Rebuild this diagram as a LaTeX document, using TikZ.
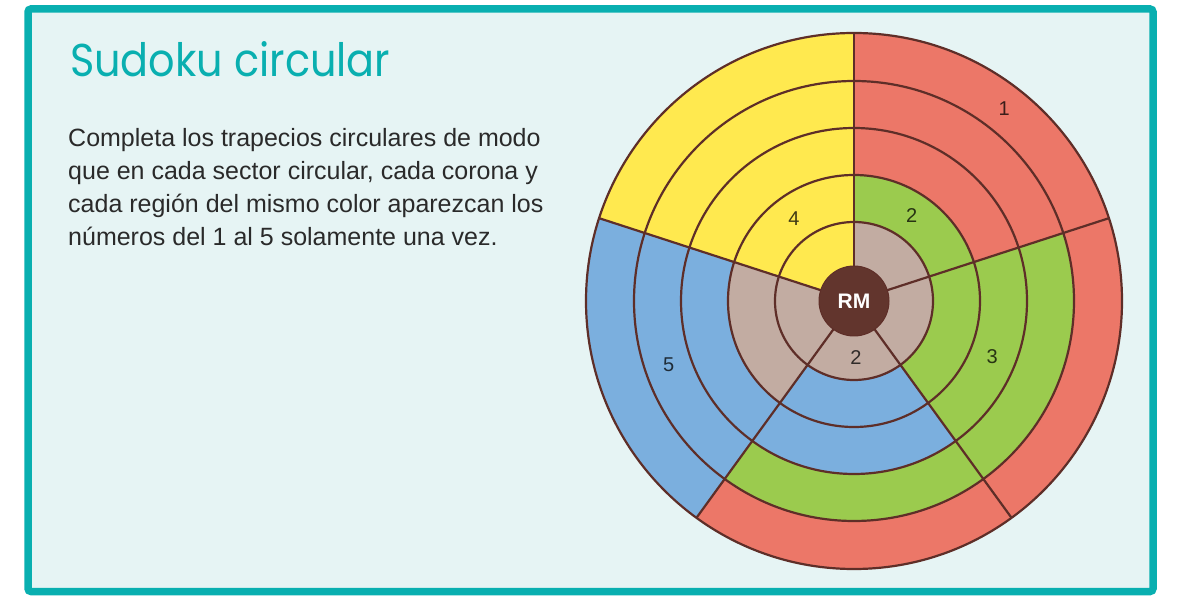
\documentclass[tikz,border=0pt]{standalone}
\usepackage{fontspec}
\setmainfont{Liberation Sans}
\newfontfamily\titlefont[FakeStretch=0.9]{Poppins}
\usetikzlibrary{positioning}
\definecolor{frameteal}{HTML}{09AFB0}
\definecolor{panelfill}{HTML}{E6F4F4}
\definecolor{ringline}{HTML}{5E2E28}
\definecolor{rmfill}{HTML}{62352D}
\definecolor{cellyellow}{HTML}{FFE94F}
\definecolor{cellred}{HTML}{EC7768}
\definecolor{cellgreen}{HTML}{9BCB4E}
\definecolor{cellblue}{HTML}{7BAFDE}
\definecolor{cellgrey}{HTML}{C2ACA2}
\definecolor{inkbody}{HTML}{2A2A2A}
\tikzset{
  % ---- panel ------------------------------------------------------------
  panel/.style={draw=frameteal, line width=7.5pt, fill=panelfill,
                rounded corners=3pt},
  titletext/.style={font=\titlefont\fontsize{46}{52}\selectfont,
                    text=frameteal, inner sep=0pt},
  bodytext/.style={font=\fontsize{25}{33}\selectfont, text=inkbody,
                   align=left, inner sep=0pt},
  % ---- wheel ------------------------------------------------------------
  ringdraw/.style={draw=ringline, line width=2.2pt},
  rmnode/.style={circle, fill=rmfill, draw=ringline, line width=1pt,
                 minimum size=70pt, inner sep=0pt, text=white,
                 font=\bfseries\fontsize{21}{21}\selectfont},
  numlabel/.style={font=\fontsize{20}{20}\selectfont, inner sep=0pt},
}

\begin{document}
\begin{tikzpicture}[x=1pt, y=1pt]

\useasboundingbox (0,0) rectangle (1181,600);

% ---- frame and text ----------------------------------------------------
\draw[panel] (28,8.5) rectangle (1153,591);
\node[titletext, anchor=base west] (title) at (70,523) {Sudoku circular};
% base of a multi-line node = its last line
\node[bodytext, anchor=base west] (intro) at (68,354)
  {Completa los trapecios circulares de modo\\
   que en cada sector circular, cada corona y\\
   cada región del mismo color aparezcan los\\
   números del 1 al 5 solamente una vez.};

% ---- wheel -------------------------------------------------------------
\begin{scope}[shift={(854,299)}]

\def\rad{{35,79,126,173,220,268}}

% cells: start angle / ring / colour
\foreach \a/\r/\c in {
    90/1/cellyellow, 90/2/cellyellow, 90/3/cellyellow, 90/4/cellyellow, 90/5/cellyellow,
    18/1/cellgrey,   18/2/cellgreen,  18/3/cellred,    18/4/cellred,    18/5/cellred,
   -54/1/cellgrey,  -54/2/cellgreen, -54/3/cellgreen,  -54/4/cellgreen, -54/5/cellred,
  -126/1/cellgrey, -126/2/cellblue, -126/3/cellblue,  -126/4/cellgreen, -126/5/cellred,
   162/1/cellgrey,  162/2/cellgrey,  162/3/cellblue,   162/4/cellblue,  162/5/cellblue}{
  \pgfmathsetmacro{\ri}{\rad[\r-1]}
  \pgfmathsetmacro{\ro}{\rad[\r]}
  \fill[\c] (\a:\ri) arc[start angle=\a, end angle=\a+72, radius=\ri]
    -- (\a+72:\ro) arc[start angle=\a+72, end angle=\a, radius=\ro] -- cycle;
}

% rings and spokes
\foreach \r in {79,126,173,220,268}
  \draw[ringdraw] (0,0) circle[radius=\r];
\foreach \a in {18,90,162,234,306}
  \draw[ringdraw] (\a:35) -- (\a:268);

\node[rmnode] (rm) at (0,0) {RM};

% ---- given numbers -----------------------------------------------------
\node[numlabel, text=black!75!cellyellow] (n4) at (126:102) {4};
\node[numlabel, text=black!75!cellgreen]  (n2a) at (56:103) {2};
\node[numlabel, text=black!75!cellred]    (n1) at (52:244) {1};
\node[numlabel, text=black!75!cellgreen]  (n3) at (-22:149) {3};
\node[numlabel, text=black!75!cellgrey]   (n2b) at (-88:57) {2};
\node[numlabel, text=black!75!cellblue]   (n5) at (199:196) {5};

\end{scope}

\end{tikzpicture}
\end{document}
